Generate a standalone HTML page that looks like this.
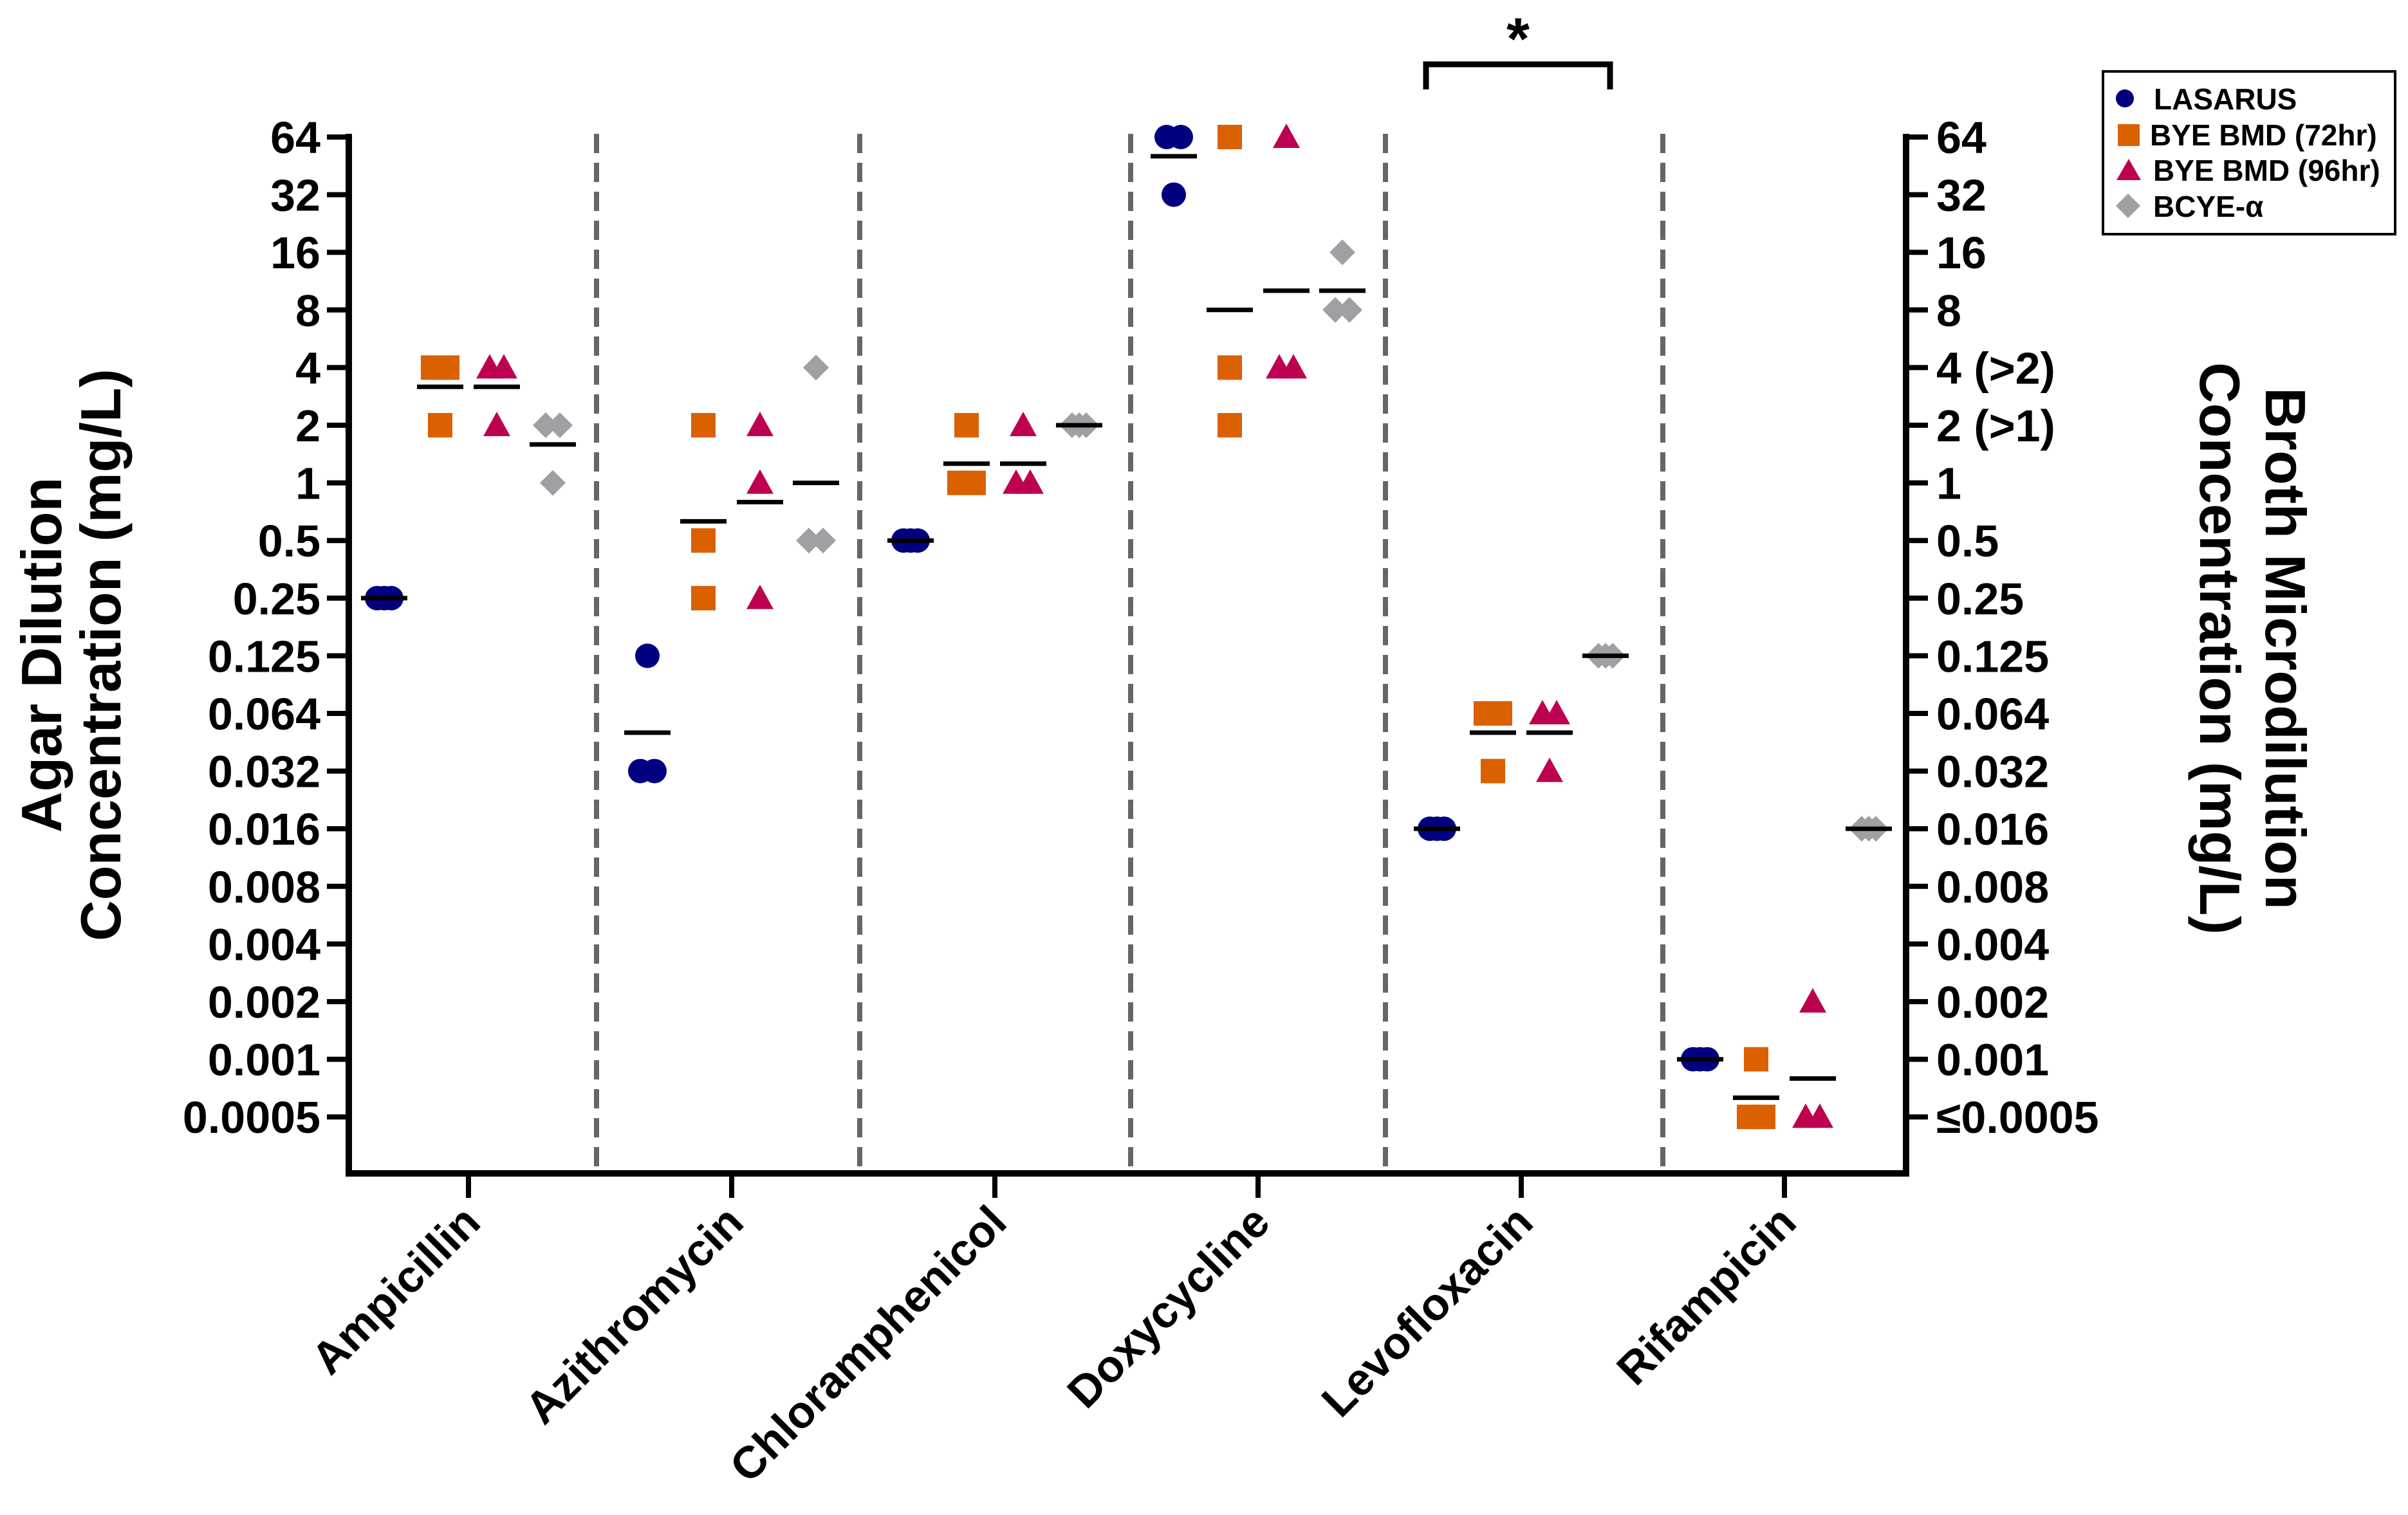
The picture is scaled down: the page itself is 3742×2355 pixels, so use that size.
<!DOCTYPE html>
<html><head><meta charset="utf-8"><style>
html,body{margin:0;padding:0;background:#fff;}
svg{display:block;font-family:"Liberation Sans",Arial,sans-serif;font-weight:bold;}
</style></head><body>
<svg id="chart" width="3742" height="2355" viewBox="0 0 3742 2355" xmlns="http://www.w3.org/2000/svg">
<g id="grid"></g>
<g id="axes"></g>
<g id="marks"></g>
<g id="means"></g>
<text x="0" y="0" font-size="88" transform="translate(95,1018) rotate(-90)" text-anchor="middle">Agar Dilution</text>
<text x="0" y="0" font-size="88" transform="translate(187,1018) rotate(-90)" text-anchor="middle">Concentration (mg/L)</text>
<text x="0" y="0" font-size="88" transform="translate(3521,1008) rotate(90)" text-anchor="middle">Broth Microdilution</text>
<text x="0" y="0" font-size="88" transform="translate(3419,1008) rotate(90)" text-anchor="middle">Concentration (mg/L)</text>
<path d="M2216,139 V100 H2502 V139" fill="none" stroke="#000" stroke-width="9"/>
<text x="2359" y="92" font-size="92" text-anchor="middle">*</text>
<g>
<rect x="3268" y="111" width="454" height="253" fill="#fff" stroke="#000" stroke-width="4"/>
<circle cx="3302" cy="153" r="14" fill="#000080"/>
<text x="3347" y="170" font-size="46">LASARUS</text>
<rect x="3291" y="193" width="34" height="34" fill="#DA6000"/>
<text x="3341" y="226" font-size="46">BYE BMD (72hr)</text>
<path d="M3308,247 L3327,280 L3289,280 Z" fill="#BE0050"/>
<text x="3346" y="281" font-size="46">BYE BMD (96hr)</text>
<path d="M3307,301 L3326,320 L3307,339 L3288,320 Z" fill="#A0A0A4"/>
<text x="3346" y="337" font-size="46">BCYE-α</text>
</g>
</svg>
<script>
const categories = ["Ampicillin","Azithromycin","Chloramphenicol","Doxycycline","Levofloxacin","Rifampicin"];
const seriesNames = ["LASARUS","BYE BMD (72hr)","BYE BMD (96hr)","BCYE-α"];
const lasarus = [[0.25,0.25,0.25],[0.125,0.03125,0.03125],[0.5,0.5,0.5],[64,64,32],[0.015625,0.015625,0.015625],[0.0009765625,0.0009765625,0.0009765625]];
const bye72 = [[4,4,2],[2,0.5,0.25],[2,1,1],[64,4,2],[0.0625,0.0625,0.03125],[0.0009765625,0.00048828125,0.00048828125]];
const bye96 = [[4,4,2],[2,1,0.25],[2,1,1],[64,4,4],[0.0625,0.0625,0.03125],[0.001953125,0.00048828125,0.00048828125]];
const bcye = [[2,2,1],[4,0.5,0.5],[2,2,2],[16,8,8],[0.125,0.125,0.125],[0.015625,0.015625,0.015625]];
const leftTickLabels = ["64","32","16","8","4","2","1","0.5","0.25","0.125","0.064","0.032","0.016","0.008","0.004","0.002","0.001","0.0005"];
const rightTickLabels = ["64","32","16","8","4 (>2)","2 (>1)","1","0.5","0.25","0.125","0.064","0.032","0.016","0.008","0.004","0.002","0.001","≤0.0005"];
const separators = [927,1336,1757,2153,2584];

const NS="http://www.w3.org/2000/svg";
function mk(tag,attrs,parent){const e=document.createElementNS(NS,tag);for(const k in attrs)e.setAttribute(k,attrs[k]);parent.appendChild(e);return e;}
const X0=542, X1=2962, YTOP=208, YBOT=1824;
function yPos(v){return 213+(6-Math.log2(v))*89.6;}
function yIdx(i){return 213+i*89.6;}
function xCat(i){return 728+i*409;}
const offs=[-131,-44,44,131];
const colors=["#000080","#DA6000","#BE0050","#A0A0A4"];
const series=[lasarus,bye72,bye96,bcye];
const keys=["lasarus","bye72","bye96","bcye"];

const grid=document.getElementById('grid');
separators.forEach(function(x){
  const l=mk('line',{x1:x,y1:YTOP,x2:x,y2:YBOT-6,stroke:'#666','stroke-width':8,'stroke-dasharray':'30 15'},grid);
  
  
});

const axes=document.getElementById('axes');
let a=mk('line',{x1:X0,y1:YTOP,x2:X0,y2:YBOT+5,stroke:'#000','stroke-width':10},axes);


a=mk('line',{x1:X1,y1:YTOP,x2:X1,y2:YBOT+5,stroke:'#000','stroke-width':10},axes);


a=mk('line',{x1:X0-5,y1:YBOT,x2:X1+5,y2:YBOT,stroke:'#000','stroke-width':10},axes);


leftTickLabels.forEach(function(t,i){
  const y=yIdx(i);
  const tk=mk('line',{x1:X0-34,y1:y,x2:X0,y2:y,stroke:'#000','stroke-width':8},axes);
  
  
  const tx=mk('text',{x:X0-44,y:y+25,'font-size':70,'text-anchor':'end'},axes);
  tx.textContent=t;
  
  
});
rightTickLabels.forEach(function(t,i){
  const y=yIdx(i);
  const tk=mk('line',{x1:X1,y1:y,x2:X1+34,y2:y,stroke:'#000','stroke-width':8},axes);
  
  
  const tx=mk('text',{x:X1+47,y:y+25,'font-size':70,'text-anchor':'start'},axes);
  tx.textContent=t;
  
  
});
categories.forEach(function(c,i){
  const x=xCat(i);
  const tk=mk('line',{x1:x,y1:YBOT,x2:x,y2:YBOT+38,stroke:'#000','stroke-width':8},axes);
  
  
  const tx=mk('text',{x:0,y:0,'font-size':70,'text-anchor':'end',transform:'translate('+(x+22)+',1904) rotate(-45)'},axes);
  tx.textContent=c;
  
  
});

const marks=document.getElementById('marks');
const means=document.getElementById('means');
function drawMarker(s,cx,cy){
  let e;
  if(s===0) e=mk('circle',{cx:cx,cy:cy,r:19,fill:colors[0]},marks);
  else if(s===1) e=mk('rect',{x:cx-19,y:cy-19,width:38,height:38,fill:colors[1]},marks);
  else if(s===2) e=mk('path',{d:'M'+cx+','+(cy-21)+' L'+(cx+21)+','+(cy+17)+' L'+(cx-21)+','+(cy+17)+' Z',fill:colors[2]},marks);
  else e=mk('path',{d:'M'+cx+','+(cy-20)+' L'+(cx+20)+','+cy+' L'+cx+','+(cy+20)+' L'+(cx-20)+','+cy+' Z',fill:colors[3]},marks);
  return e;
}
series.forEach(function(data,s){
  data.forEach(function(vals,ci){
    const cx=xCat(ci)+offs[s];
    const counts={};
    vals.forEach(function(v){counts[v]=(counts[v]||0)+1;});
    const seen={};
    vals.forEach(function(v){
      const n=counts[v];const k=seen[v]||0;seen[v]=k+1;
      const dx=n===2?22:(n===3?11:0);
      const px=cx+(k-(n-1)/2)*dx;
      const e=drawMarker(s,px,yPos(v));
      
      
    });
    let lg=0;vals.forEach(function(v){lg+=Math.log2(v);});
    const gm=Math.pow(2,lg/vals.length);
    const ly=yPos(gm);
    const ml=mk('line',{x1:cx-36,y1:ly,x2:cx+36,y2:ly,stroke:'#000','stroke-width':7},means);
    
    
  });
});
</script>
</body></html>
